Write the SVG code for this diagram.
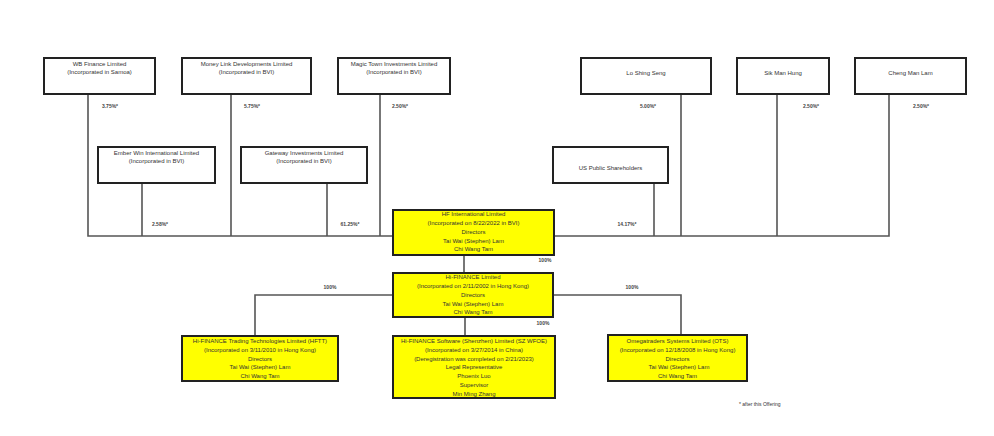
<svg xmlns="http://www.w3.org/2000/svg" width="994" height="436" viewBox="0 0 994 436">
<style>
.bg{fill:#ffffff}
.box{fill:#ffffff;stroke:#222;stroke-width:2}
.ybox{fill:#ffff00;stroke:#222;stroke-width:2}
.ln{fill:none;stroke:#555;stroke-width:1.6}
text{font-family:"Liberation Sans","DejaVu Sans",sans-serif;font-size:6px;fill:#333;text-anchor:middle}
.pct{font-size:5px;font-weight:bold;fill:#444}
.note{font-size:5px;text-anchor:start}
</style>
<rect class="bg" x="0" y="0" width="994" height="436"/>
<g id="connectors">
<path class="ln" d="M88 94V236H889V94"/>
<path class="ln" d="M142 183V236M231 94V236M327 183V236M380 94V236M654 183V236M681 94V236M777 94V236"/>
<path class="ln" d="M464 255V273"/>
<path class="ln" d="M393 295H255V336M553 295H681V335M465 317V336"/>
</g>
<g id="pcts">
<text class="pct" x="110" y="108">3.75%*</text>
<text class="pct" x="252" y="108">5.75%*</text>
<text class="pct" x="400" y="108">2.50%*</text>
<text class="pct" x="648" y="108">5.00%*</text>
<text class="pct" x="811" y="108">2.50%*</text>
<text class="pct" x="921" y="108">2.50%*</text>
<text class="pct" x="160" y="226">2.58%*</text>
<text class="pct" x="350" y="226">61.25%*</text>
<text class="pct" x="627" y="226">14.17%*</text>
<text class="pct" x="545" y="262">100%</text>
<text class="pct" x="330" y="289">100%</text>
<text class="pct" x="632" y="289">100%</text>
<text class="pct" x="543" y="325">100%</text>
</g>
<g id="wb"><rect class="box" x="44" y="58" width="111" height="36"/><text x="99.5" y="66">WB Finance Limited</text><text x="99.5" y="74">(Incorporated in Samoa)</text></g>
<g id="moneylink"><rect class="box" x="182" y="58" width="129" height="36"/><text x="246.5" y="66">Money Link Developments Limited</text><text x="246.5" y="74">(Incorporated in BVI)</text></g>
<g id="magictown"><rect class="box" x="338" y="58" width="112" height="36"/><text x="394" y="66">Magic Town Investments Limited</text><text x="394" y="74">(Incorporated in BVI)</text></g>
<g id="lo"><rect class="box" x="581" y="58" width="130" height="36"/><text x="646" y="75">Lo Shing Seng</text></g>
<g id="sik"><rect class="box" x="737" y="58" width="92" height="36"/><text x="783" y="75">Sik Man Hung</text></g>
<g id="cheng"><rect class="box" x="855" y="58" width="111" height="36"/><text x="910.5" y="75">Cheng Man Lam</text></g>
<g id="ember"><rect class="box" x="98" y="147" width="117" height="36"/><text x="156.5" y="155">Ember Win International Limited</text><text x="156.5" y="163">(Incorporated in BVI)</text></g>
<g id="gateway"><rect class="box" x="241" y="147" width="126" height="36"/><text x="304" y="155">Gateway Investments Limited</text><text x="304" y="163">(Incorporated in BVI)</text></g>
<g id="uspublic"><rect class="box" x="553" y="147" width="115" height="36"/><text x="610.5" y="170">US Public Shareholders</text></g>
<g id="hfintl"><rect class="ybox" x="393" y="210" width="161" height="45"/>
<text x="473.5" y="216">HF International Limited</text>
<text x="473.5" y="225">(Incorporated on 8/22/2022 in BVI)</text>
<text x="473.5" y="234">Directors</text>
<text x="473.5" y="243">Tai Wai (Stephen) Lam</text>
<text x="473.5" y="251">Chi Wang Tam</text></g>
<g id="hifinance"><rect class="ybox" x="393" y="273" width="160" height="44"/>
<text x="473" y="279">Hi-FINANCE Limited</text>
<text x="473" y="288">(Incorporated on 2/11/2002 in Hong Kong)</text>
<text x="473" y="297">Directors</text>
<text x="473" y="306">Tai Wai (Stephen) Lam</text>
<text x="473" y="314">Chi Wang Tam</text></g>
<g id="hftt"><rect class="ybox" x="182" y="336" width="156" height="45"/>
<text x="260" y="343">Hi-FINANCE Trading Technologies Limited (HFTT)</text>
<text x="260" y="352">(Incorporated on 3/11/2010 in Hong Kong)</text>
<text x="260" y="361">Directors</text>
<text x="260" y="369">Tai Wai (Stephen) Lam</text>
<text x="260" y="378">Chi Wang Tam</text></g>
<g id="hfsz"><rect class="ybox" x="393" y="336" width="162" height="62"/>
<text x="474" y="343">Hi-FINANCE Software (Shenzhen) Limited (SZ WFOE)</text>
<text x="474" y="352">(Incorporated on 3/27/2014 in China)</text>
<text x="474" y="361">(Deregistration was completed on 2/21/2023)</text>
<text x="474" y="369">Legal Representative</text>
<text x="474" y="378">Phoenix Luo</text>
<text x="474" y="387">Supervisor</text>
<text x="474" y="396">Min Ming Zhang</text></g>
<g id="ots"><rect class="ybox" x="608" y="335" width="139" height="46"/>
<text x="677.5" y="343">Omegatraders Systems Limited (OTS)</text>
<text x="677.5" y="352">(Incorporated on 12/18/2008 in Hong Kong)</text>
<text x="677.5" y="361">Directors</text>
<text x="679" y="369">Tai Wai (Stephen) Lam</text>
<text x="677.5" y="378">Chi Wang Tam</text></g>
<g id="footnote"><text class="note" x="739" y="406">* after this Offering</text></g>
</svg>
